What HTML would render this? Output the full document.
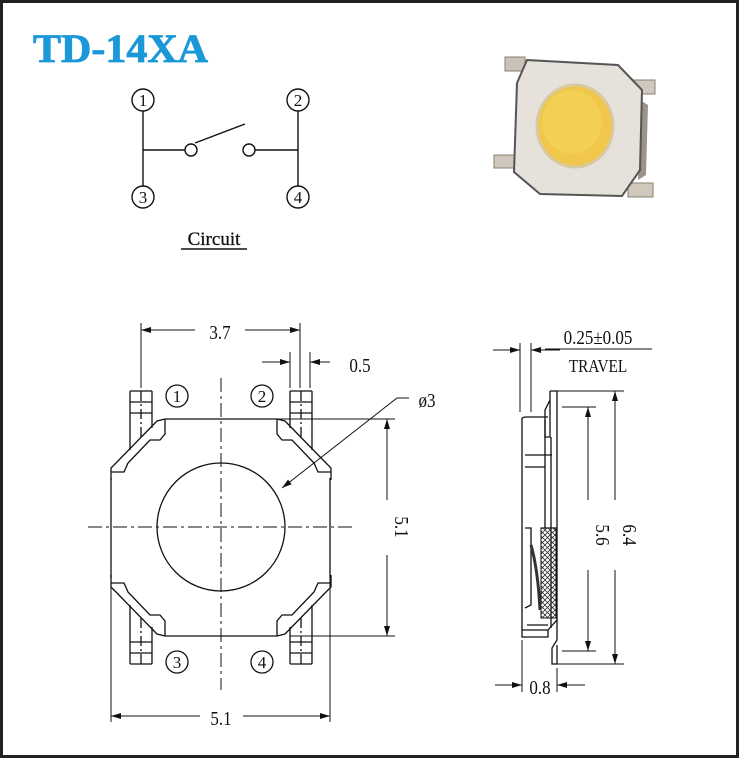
<!DOCTYPE html>
<html><head><meta charset="utf-8"><style>
html,body{margin:0;padding:0;background:#fff}
svg{display:block}
text{font-family:"Liberation Serif",serif;fill:#111}
</style></head><body>
<svg width="739" height="758" viewBox="0 0 739 758" xmlns="http://www.w3.org/2000/svg">
<defs>
<marker id="a" viewBox="0 0 10 6" refX="10" refY="3" markerWidth="10" markerHeight="6" orient="auto-start-reverse" markerUnits="userSpaceOnUse"><path d="M0,0 L10,3 L0,6 Z" fill="#111"/></marker>
<pattern id="hatch" width="5" height="5" patternUnits="userSpaceOnUse"><path d="M0,0 L5,5 M5,0 L0,5" stroke="#333" stroke-width="0.8"/></pattern>
<g id="corner" fill="none" stroke="#111" stroke-width="1.3">
<path d="M111,480 L111,468 L116,463 L157,421 L165,419"/>
<path d="M165,419 L165,434 L160,440 L150,440 L128,463 L124,472 L111,472"/>
<path d="M130,391 L130,450 M152,391 L152,428 M130,391 L152,391 M130,402 L152,402 M130,413 L152,413"/>
<path d="M141,391 L141,440" stroke-dasharray="10,3,2,3"/>
</g>
</defs>
<rect x="1.5" y="1.5" width="736" height="755" fill="#fff" stroke="#222" stroke-width="3"/>
<text x="33" y="62" textLength="175" lengthAdjust="spacingAndGlyphs" style="font-size:40px;font-weight:bold;fill:#1a98d8;stroke:#1a98d8;stroke-width:0.8">TD-14XA</text>

<!-- circuit -->
<g fill="none" stroke="#111" stroke-width="1.4">
<circle cx="143" cy="100" r="11"/><circle cx="143" cy="197" r="11"/>
<circle cx="298" cy="100" r="11"/><circle cx="298" cy="197" r="11"/>
<path d="M143,111 L143,186 M143,150 L185,150 M298,111 L298,186 M298,150 L255,150 M195,143 L245,124"/>
<circle cx="191" cy="150" r="6"/><circle cx="249" cy="150" r="6"/>
<path d="M181,249 L247,249" stroke-width="1.6"/>
</g>
<g style="font-size:17px" text-anchor="middle">
<text x="143" y="106">1</text><text x="143" y="203">3</text><text x="298" y="106">2</text><text x="298" y="203">4</text>
</g>
<text x="214" y="245" text-anchor="middle" style="font-size:19px;stroke:#111;stroke-width:0.3">Circuit</text>

<!-- photo -->
<g>
<rect x="505" y="57" width="20" height="14" fill="#c9c2b8" stroke="#8a8070"/>
<rect x="630" y="80" width="25" height="14" fill="#d0c8bd" stroke="#8a8070"/>
<rect x="494" y="155" width="25" height="13" fill="#d0c8bd" stroke="#8a8070"/>
<rect x="628" y="183" width="25" height="14" fill="#d0c8bd" stroke="#8a8070"/>
<path d="M640,100 L648,105 L646,175 L638,180 Z" fill="#9a948c"/>
<path d="M527,60 L618,65 L642,90 L640,170 L622,196 L540,194 L514,172 L517,83 Z" fill="#e6e1da" stroke="#555" stroke-width="2"/>
<ellipse cx="575" cy="126" rx="38" ry="41" fill="#f0c74a" stroke="#d8c9a0" stroke-width="3"/>
<ellipse cx="572" cy="122" rx="30" ry="32" fill="#f3cf55"/>
</g>

<!-- front view -->
<g fill="none" stroke="#111" stroke-width="1.3">
<path d="M165,419 L277,419 M165,636 L277,636 M111,478 L111,578 M330,478 L330,578"/>
<circle cx="221" cy="527" r="64"/>
</g>
<use href="#corner"/>
<use href="#corner" transform="translate(442,0) scale(-1,1)"/>
<use href="#corner" transform="translate(0,1055) scale(1,-1)"/>
<use href="#corner" transform="translate(442,1055) scale(-1,-1)"/>
<g fill="none" stroke="#111" stroke-width="1">
<path d="M221,378 L221,690 M88,527 L356,527" stroke-dasharray="14,4,3,4"/>
<path d="M141,323 L141,388 M300,323 L300,388"/>
<path d="M195,330 L141,330" marker-end="url(#a)"/><path d="M245,330 L300,330" marker-end="url(#a)"/>
<path d="M290,352 L290,388 M310,352 L310,388"/>
<path d="M262,362 L290,362" marker-end="url(#a)"/><path d="M330,362 L310,362" marker-end="url(#a)"/>
<path d="M277,419 L395,419 M290,636 L395,636"/>
<path d="M387,500 L387,419" marker-end="url(#a)"/><path d="M387,555 L387,636" marker-end="url(#a)"/>
<path d="M111,578 L111,722 M330,578 L330,722"/>
<path d="M200,716 L111,716" marker-end="url(#a)"/><path d="M243,716 L330,716" marker-end="url(#a)"/>
<path d="M409,398 L397,398 L282,488" marker-end="url(#a)"/>
</g>
<g style="font-size:20px" text-anchor="middle">
<text transform="translate(220,339) scale(0.85,1)">3.7</text>
<text transform="translate(360,372) scale(0.85,1)">0.5</text>
<text transform="translate(427,407) scale(0.85,1)">ø3</text>
<text transform="translate(221,725) scale(0.85,1)">5.1</text>
<text transform="translate(395,527) rotate(90) scale(0.85,1)">5.1</text>
</g>
<g fill="none" stroke="#111" stroke-width="1.3">
<circle cx="177" cy="396" r="11"/><circle cx="262" cy="396" r="11"/>
<circle cx="177" cy="662" r="11"/><circle cx="262" cy="662" r="11"/>
</g>
<g style="font-size:17px" text-anchor="middle">
<text x="177" y="402">1</text><text x="262" y="402">2</text><text x="177" y="668">3</text><text x="262" y="668">4</text>
</g>

<!-- side view -->
<g fill="none" stroke="#111" stroke-width="1.3">
<path d="M522,418 L522,637 L548,637 L548,630 M522,418 L525,417 L548,417"/>
<path d="M550,391 L557,391 L557,420 M550,391 L550,400 L545,410 L545,437 L550,437 L550,395"/>
<path d="M525,467 L545,467 L545,420 M525,455 L552,455 M545,455 L545,528 M551,437 L551,628 M557,420 L557,620"/>
<path d="M525,528 L531,528 L531,605 L525,608 M541,528 L557,528"/>
<path d="M548,630 L557,620 L557,640 L552,648 L552,664 L557,664 L557,645"/>
<path d="M527,625 L548,625 M522,630 L548,630"/>
</g>
<rect x="541" y="528" width="15" height="90" fill="url(#hatch)" stroke="#111"/>
<path d="M531,545 Q538,570 540,610" fill="none" stroke="#333" stroke-width="3"/>
<g fill="none" stroke="#111" stroke-width="1">
<path d="M520,343 L520,412 M531,343 L531,412"/>
<path d="M493,350 L520,350" marker-end="url(#a)"/><path d="M560,350 L531,350" marker-end="url(#a)"/>
<path d="M545,349 L652,349"/>
<path d="M557,391 L624,391 M557,664 L624,664 M562,407 L596,407 M562,651 L596,651"/>
<path d="M615,500 L615,391" marker-end="url(#a)"/><path d="M615,570 L615,664" marker-end="url(#a)"/>
<path d="M588,500 L588,407" marker-end="url(#a)"/><path d="M588,570 L588,651" marker-end="url(#a)"/>
<path d="M522,640 L522,692 M557,668 L557,692"/>
<path d="M495,685 L522,685" marker-end="url(#a)"/><path d="M585,685 L557,685" marker-end="url(#a)"/>
</g>
<g style="font-size:20px" text-anchor="middle">
<text transform="translate(598,344) scale(0.85,1)">0.25±0.05</text>
<text transform="translate(598,372) scale(0.85,1)" style="font-size:18px">TRAVEL</text>
<text transform="translate(540,694) scale(0.85,1)">0.8</text>
<text transform="translate(596,535) rotate(90) scale(0.85,1)">5.6</text>
<text transform="translate(623,535) rotate(90) scale(0.85,1)">6.4</text>
</g>
</svg>
</body></html>
